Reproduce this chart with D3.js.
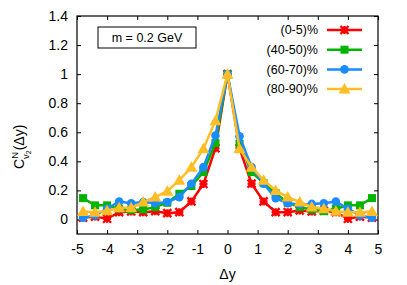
<!DOCTYPE html>
<html>
<head>
<meta charset="utf-8">
<script src="https://cdn.jsdelivr.net/npm/d3@7"></script>
<style>
  body { margin: 0; background: #fff; }
  svg text { font-family: "Liberation Sans", Arial, sans-serif; fill: #000; }
</style>
</head>
<body>
<script>
// delta-y positions of the points
var dy = [-4.8, -4.4, -4.0, -3.6, -3.2, -2.8, -2.4, -2.0, -1.6, -1.2, -0.8, -0.4, 0,
          0.4, 0.8, 1.2, 1.6, 2.0, 2.4, 2.8, 3.2, 3.6, 4.0, 4.4, 4.8];

var c0_5   = [0.012, 0.02, 0.005, 0.05, 0.055, 0.05, 0.057, 0.043, 0.05, 0.124, 0.244, 0.49, 1.0,
              0.49, 0.246, 0.124, 0.05, 0.05, 0.062, 0.055, 0.06, 0.05, 0.005, 0.02, 0.012];
var c40_50 = [0.147, 0.097, 0.097, 0.074, 0.066, 0.069, 0.085, 0.115, 0.177, 0.23, 0.326, 0.525, 1.0,
              0.52, 0.326, 0.25, 0.18, 0.115, 0.085, 0.069, 0.057, 0.074, 0.097, 0.097, 0.147];
var c60_70 = [0.012, 0.028, 0.074, 0.124, 0.112, 0.12, 0.112, 0.12, 0.154, 0.246, 0.36, 0.578, 1.0,
              0.572, 0.36, 0.246, 0.147, 0.112, 0.103, 0.107, 0.112, 0.124, 0.074, 0.028, 0.012];
var c80_90 = [0.055, 0.05, 0.06, 0.08, 0.08, 0.12, 0.154, 0.195, 0.27, 0.36, 0.487, 0.68, 1.0,
              0.487, 0.36, 0.27, 0.2, 0.154, 0.12, 0.085, 0.074, 0.057, 0.05, 0.05, 0.055];

var labels = ['(0-5)%', '(40-50)%', '(60-70)%', '(80-90)%'];
var xTicks = [-5, -4, -3, -2, -1, 0, 1, 2, 3, 4, 5];
var yTicks = [0, 0.2, 0.4, 0.6, 0.8, 1, 1.2, 1.4];

var series = [
  {name: labels[0], values: c0_5,   color: '#ff0000', mark: 'star'},
  {name: labels[1], values: c40_50, color: '#00b400', mark: 'square'},
  {name: labels[2], values: c60_70, color: '#1a8cff', mark: 'circle'},
  {name: labels[3], values: c80_90, color: '#ffbe26', mark: 'triangle'}
];

var W = 407, H = 285;
var margin = {top: 16, right: 29, bottom: 51, left: 77},
    width = W - margin.left - margin.right,
    height = H - margin.top - margin.bottom;

var x = d3.scaleLinear().domain([-5, 5]).range([0, width]);
var y = d3.scaleLinear().domain([-0.1, 1.4]).range([height, 0]);

var svg = d3.select('body').append('svg')
  .attr('width', W)
  .attr('height', H);

var g = svg.append('g')
  .attr('transform', 'translate(' + margin.left + ',' + margin.top + ')');

// plain hyphen minus like the original
var fmt = function(d) { return String(d); };

// axes (inner ticks, mirrored)
var tick = 4;
g.append('g')
  .attr('transform', 'translate(0,' + height + ')')
  .call(d3.axisBottom(x).tickValues(xTicks).tickSize(-tick).tickPadding(10).tickFormat(fmt))
  .call(function(a) { a.select('.domain').remove(); a.selectAll('text').attr('font-size', 14); });
g.append('g')
  .call(d3.axisTop(x).tickValues(xTicks).tickSize(-tick).tickFormat(''))
  .call(function(a) { a.select('.domain').remove(); });
g.append('g')
  .call(d3.axisLeft(y).tickValues(yTicks).tickSize(-tick).tickPadding(9).tickFormat(fmt))
  .call(function(a) { a.select('.domain').remove(); a.selectAll('text').attr('font-size', 14); });
g.append('g')
  .attr('transform', 'translate(' + width + ',0)')
  .call(d3.axisRight(y).tickValues(yTicks).tickSize(-tick).tickFormat(''))
  .call(function(a) { a.select('.domain').remove(); });

g.selectAll('.tick line').attr('stroke', '#000').attr('stroke-width', 1);

g.append('rect')
  .attr('width', width)
  .attr('height', height)
  .attr('fill', 'none')
  .attr('stroke', '#000')
  .attr('stroke-width', 1.2);

// markers
function drawMark(sel, kind, color) {
  if (kind === 'star') {
    var s = 4;
    sel.append('path')
      .attr('d', 'M' + (-s) + ',0H' + s + 'M0,' + (-s) + 'V' + s +
                 'M' + (-s) + ',' + (-s) + 'L' + s + ',' + s + 'M' + (-s) + ',' + s + 'L' + s + ',' + (-s))
      .attr('stroke', color).attr('stroke-width', 2.4).attr('fill', 'none');
    sel.append('rect').attr('x', -2.5).attr('y', -2.5).attr('width', 5).attr('height', 5).attr('fill', color);
  } else if (kind === 'square') {
    sel.append('rect').attr('x', -4).attr('y', -4).attr('width', 8).attr('height', 8).attr('fill', color);
  } else if (kind === 'circle') {
    sel.append('circle').attr('r', 4.3).attr('fill', color);
  } else {
    sel.append('path').attr('d', 'M0,-6L6,4.5H-6Z').attr('fill', color);
  }
}

var line = d3.line()
  .x(function(d, i) { return x(dy[i]); })
  .y(function(d) { return y(d); });

series.forEach(function(s) {
  var sg = g.append('g');
  sg.append('path')
    .datum(s.values)
    .attr('d', line)
    .attr('fill', 'none')
    .attr('stroke', s.color)
    .attr('stroke-width', 2.5);
  sg.selectAll('.pt')
    .data(s.values)
    .enter().append('g')
    .attr('transform', function(d, i) { return 'translate(' + x(dy[i]) + ',' + y(d) + ')'; })
    .each(function() { drawMark(d3.select(this), s.mark, s.color); });
});

// legend
var legend = svg.append('g').attr('transform', 'translate(318,30)');
series.forEach(function(s, i) {
  var row = legend.append('g').attr('transform', 'translate(0,' + (i * 19.7) + ')');
  row.append('text')
    .attr('text-anchor', 'end')
    .attr('dy', '0.35em')
    .attr('font-size', 12.5)
    .text(s.name);
  row.append('line')
    .attr('x1', 9).attr('x2', 44)
    .attr('stroke', s.color).attr('stroke-width', 2.5);
  var m = row.append('g').attr('transform', 'translate(26.5,0)');
  drawMark(m, s.mark, s.color);
});

// label box
svg.append('rect')
  .attr('x', 98).attr('y', 27)
  .attr('width', 98).attr('height', 21)
  .attr('fill', '#fff').attr('stroke', '#000').attr('stroke-width', 1);
svg.append('text')
  .attr('x', 147).attr('y', 42)
  .attr('text-anchor', 'middle')
  .attr('font-size', 12.5)
  .text('m = 0.2 GeV');

// axis titles
svg.append('text')
  .attr('x', margin.left + width / 2)
  .attr('y', 279)
  .attr('text-anchor', 'middle')
  .attr('font-size', 14)
  .text('\u0394y');

var yl = svg.append('text')
  .attr('transform', 'translate(24,' + (margin.top + y(0.5)) + ') rotate(-90)')
  .attr('text-anchor', 'middle')
  .attr('font-size', 14);
yl.append('tspan').text('C');
yl.append('tspan').attr('font-size', 9.5).attr('dy', -6).text('N');
yl.append('tspan').attr('font-size', 9.5).attr('dy', 11).attr('dx', -7).text('v');
yl.append('tspan').attr('font-size', 7).attr('dy', 2).text('2');
yl.append('tspan').attr('dy', -7).text('(\u0394y)');
</script>
</body>
</html>
